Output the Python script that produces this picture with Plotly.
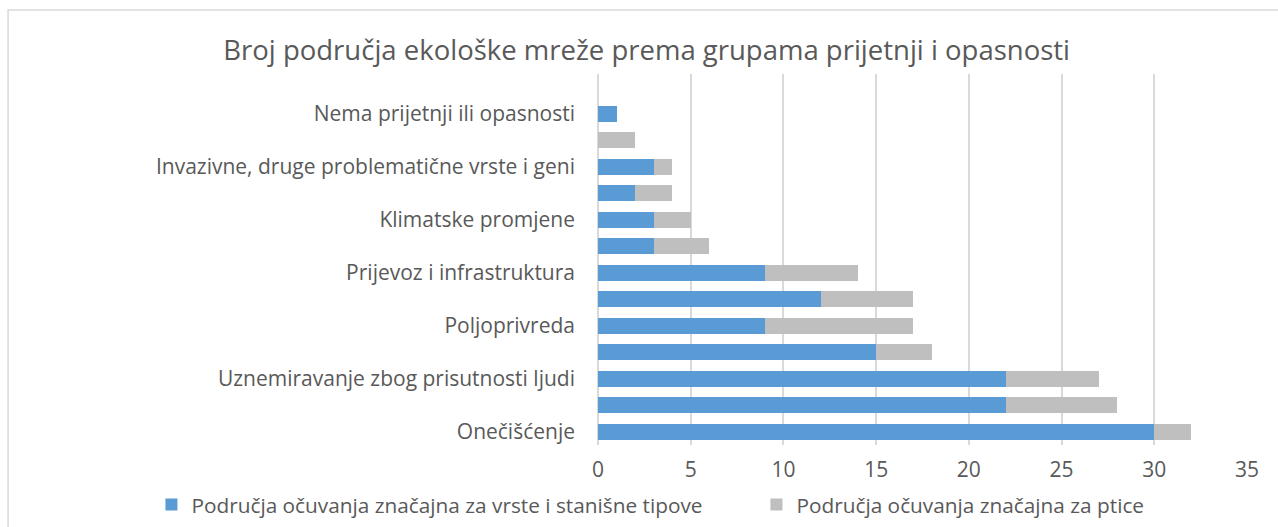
import plotly.graph_objects as go

# Threat groups, listed bottom to top; only every other label is printed on the axis
threat_labels = [
    "Onečišćenje",
    "",
    "Uznemiravanje zbog prisutnosti ljudi",
    "",
    "Poljoprivreda",
    "",
    "Prijevoz i infrastruktura",
    "",
    "Klimatske promjene",
    "",
    "Invazivne, druge problematične vrste i geni",
    "",
    "Nema prijetnji ili opasnosti",
]
positions = list(range(len(threat_labels)))

species_habitats = [30, 22, 22, 15, 9, 12, 9, 3, 3, 2, 3, 0, 1]
birds = [2, 6, 5, 3, 8, 5, 5, 3, 2, 2, 1, 2, 0]

x_ticks = [0, 5, 10, 15, 20, 25, 30, 35]

series_names = [
    "Područja očuvanja značajna za vrste i stanišne tipove",
    "Područja očuvanja značajna za ptice",
]

FONT = "Open Sans"
TEXT = "#595959"
GRID = "#D9D9D9"

fig = go.Figure()
fig.add_trace(go.Bar(
    y=positions, x=species_habitats, orientation="h",
    name=series_names[0], marker=dict(color="#5B9BD5", line=dict(width=0)),
    width=0.6, legend="legend", showlegend=True,
))
fig.add_trace(go.Bar(
    y=positions, x=birds, orientation="h",
    name=series_names[1], marker=dict(color="#BFBFBF", line=dict(width=0)),
    width=0.6, legend="legend2", showlegend=True,
))

shown = [(p, t) for p, t in zip(positions, threat_labels) if t]

legend_style = dict(
    orientation="h", xref="container", yref="container",
    xanchor="left", y=0.0417, yanchor="middle",
    font=dict(size=20.8, color=TEXT), itemsizing="constant", itemwidth=30,
    bgcolor="rgba(0,0,0,0)", visible=True,
)

fig.update_layout(
    template="none",
    showlegend=True,
    barmode="stack",
    width=1278, height=527,
    margin=dict(l=598, r=31, t=74, b=82, autoexpand=False),
    paper_bgcolor="white", plot_bgcolor="white",
    font=dict(family=FONT, color=TEXT, size=21),
    title=dict(
        text="Broj područja ekološke mreže prema grupama prijetnji i opasnosti",
        x=0.506, xanchor="center", y=0.905, yanchor="middle",
        font=dict(size=27.5, color=TEXT, family=FONT),
    ),
    xaxis=dict(
        range=[0, 35], tickvals=x_ticks, showgrid=True, gridcolor=GRID,
        gridwidth=1.5, zeroline=True, zerolinecolor=GRID, zerolinewidth=1.5,
        showline=False, ticks="", tickfont=dict(size=21, color=TEXT),
        ticklabelstandoff=10, automargin=False,
    ),
    yaxis=dict(
        range=[-0.5, 13.5], tickvals=[p for p, _ in shown],
        ticktext=[t for _, t in shown], showgrid=False, zeroline=False,
        showline=False, ticks="", tickfont=dict(size=21, color=TEXT),
        ticklabelstandoff=22, automargin=False,
    ),
    legend=dict(x=0.1185, **legend_style),
    legend2=dict(x=0.5919, **legend_style),
    bargap=0.4,
    shapes=[dict(
        type="rect", xref="paper", yref="paper",
        x0=-0.909, x1=1.3, y0=-0.6, y1=1.1725,
        line=dict(color=GRID, width=1.5), fillcolor="rgba(0,0,0,0)",
        layer="below",
    )],
)

fig.write_html("out.html")
